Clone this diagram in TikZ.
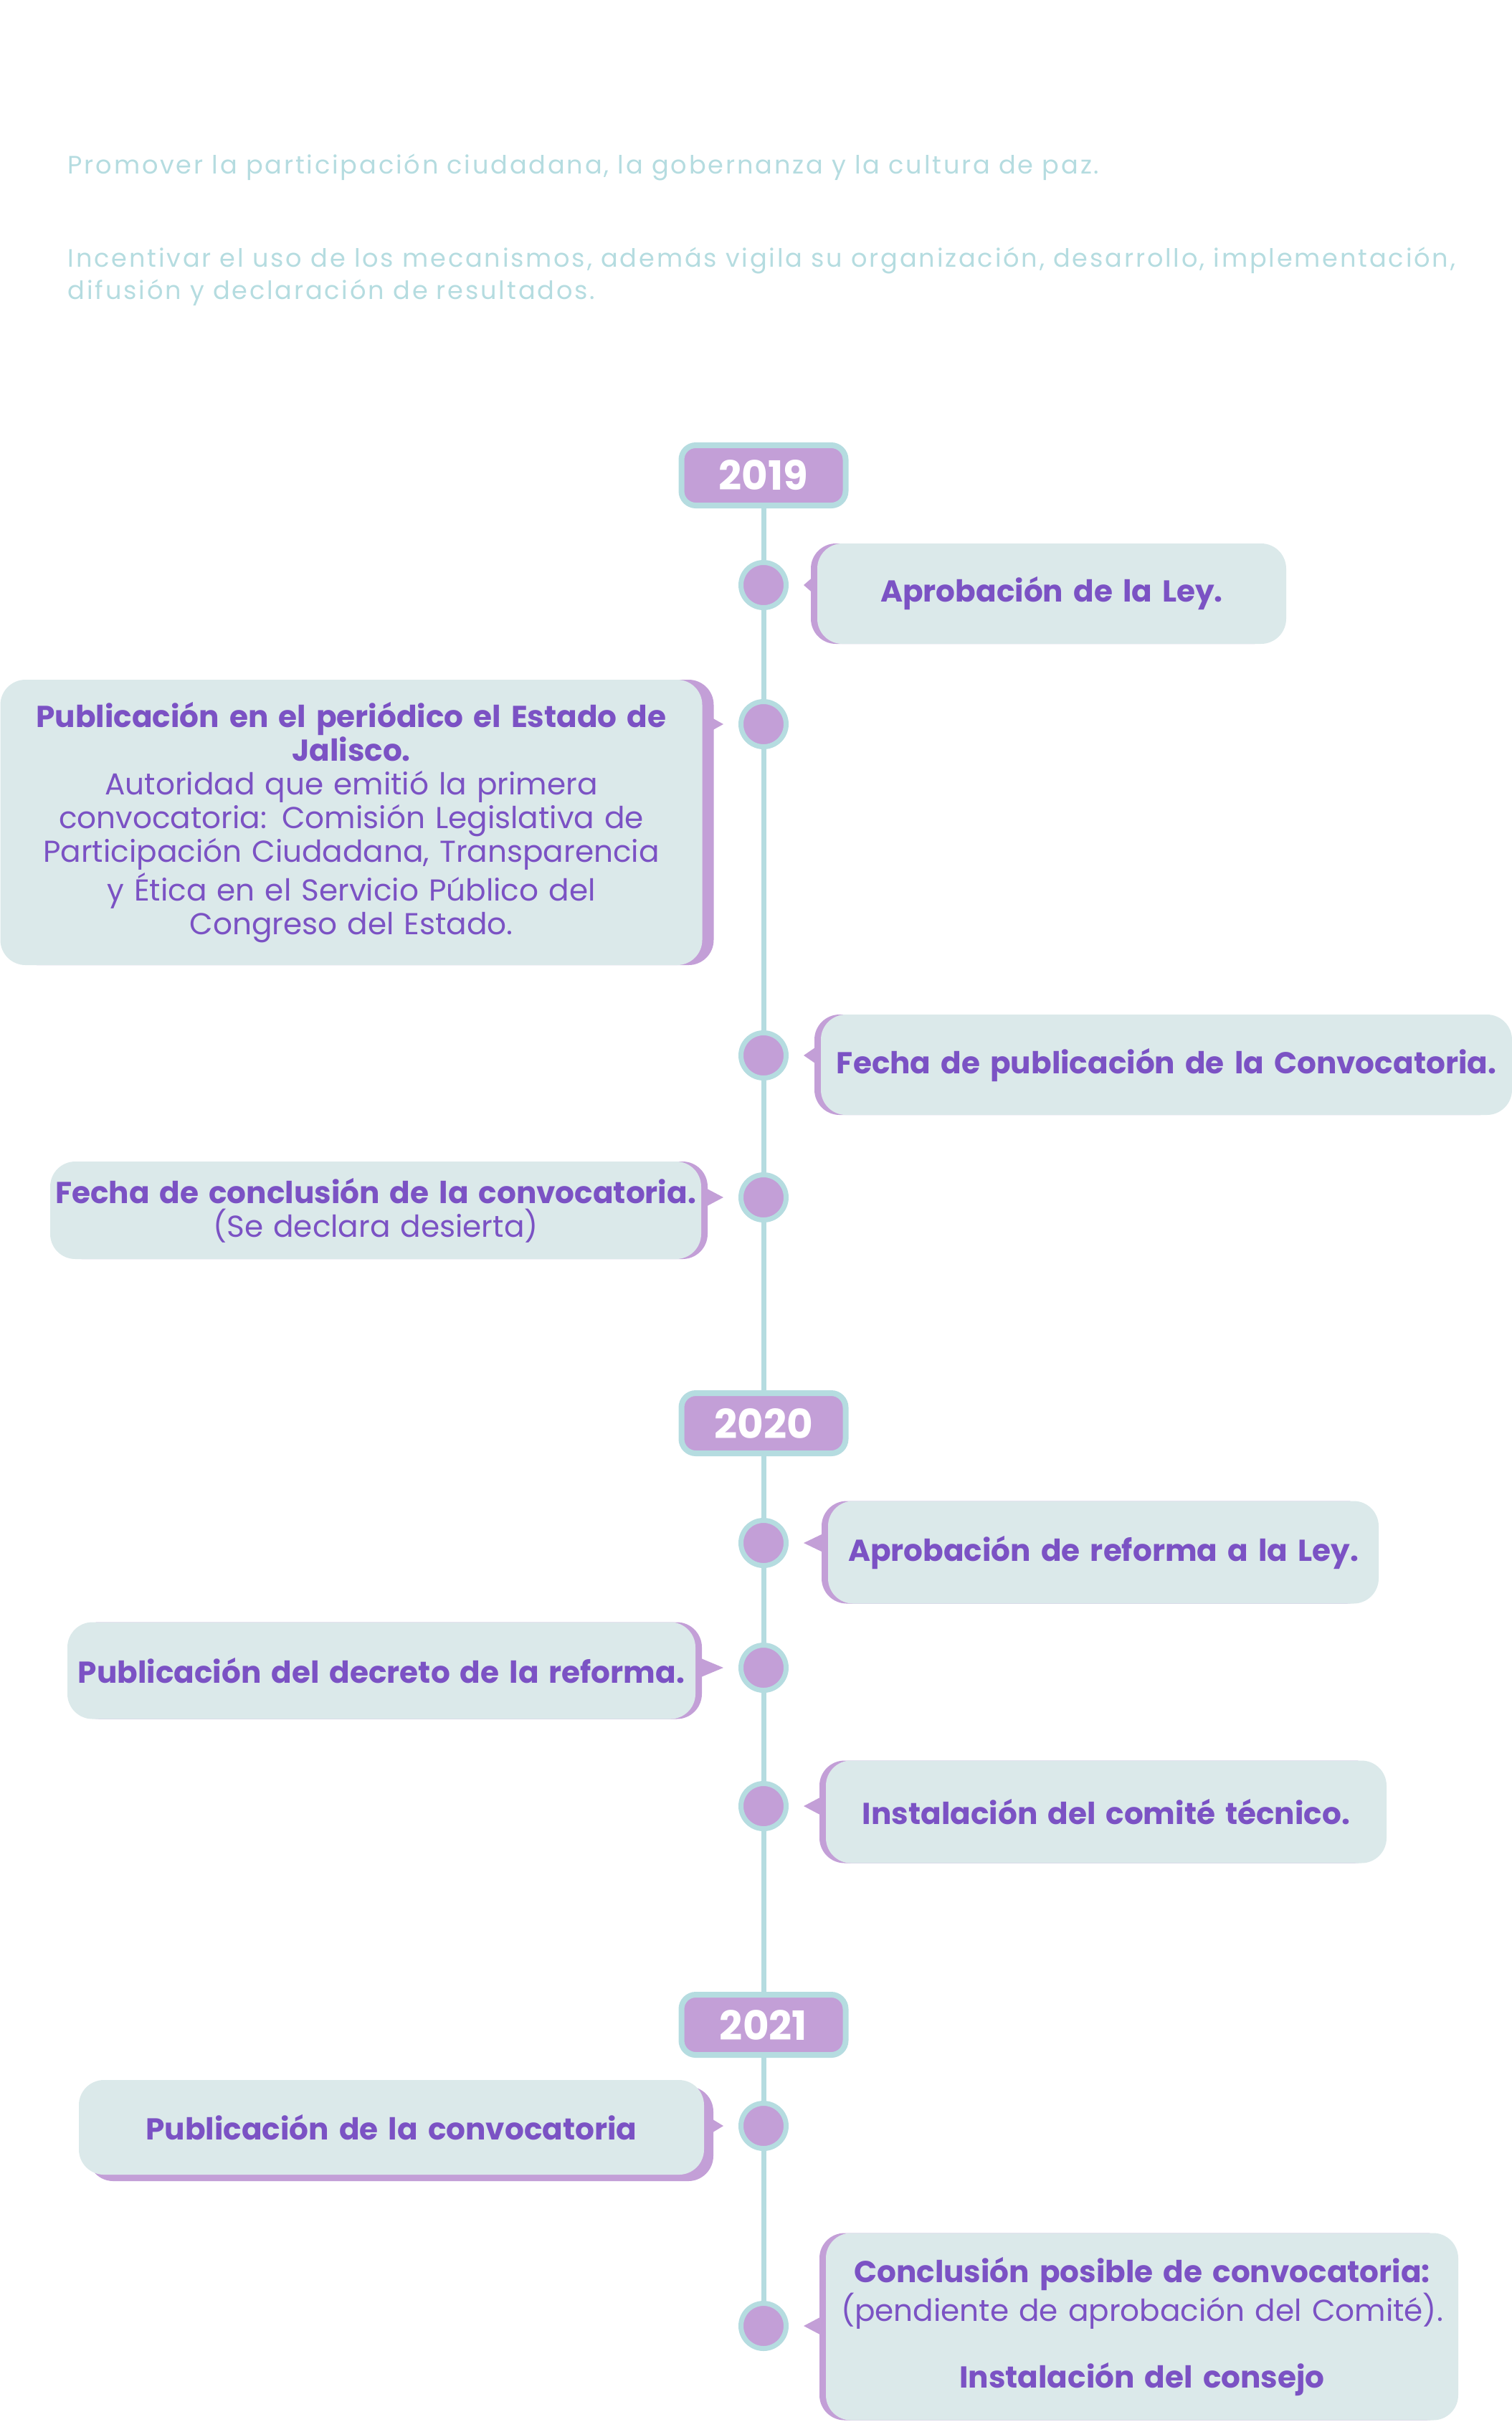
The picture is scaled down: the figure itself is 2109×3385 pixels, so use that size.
\documentclass[tikz,border=0pt]{standalone}
\usepackage{fontspec}
\setmainfont{Poppins}
\usetikzlibrary{backgrounds,shadows}
\definecolor{lila}{HTML}{C39FD7}
\definecolor{celeste}{HTML}{B5DCE0}
\definecolor{fondo}{HTML}{DBE9EA}
\definecolor{morado}{HTML}{7B52C4}
\newcommand{\hito}[1]{\textbf{#1}}

\begin{document}
\begin{tikzpicture}[x=0.1mm,y=-0.1mm,
  year/.style={rectangle,rounded corners=2mm,draw=celeste,line width=0.8mm,fill=lila,text=white,
    font=\fontsize{16}{18}\selectfont\bfseries,minimum width=22.9mm,minimum height=8.4mm},
  dot/.style={circle,draw=celeste,line width=0.7mm,fill=lila,minimum size=6.3mm,inner sep=0pt},
  caja/.style={rectangle,rounded corners=3.5mm,fill=fondo,text=morado,align=center,inner sep=0pt,
    font=\fontsize{12}{13.4}\selectfont},
  der/.style={caja,drop shadow={shadow xshift=-0.9mm,shadow yshift=0mm,fill=lila,opacity=1}},
  izq/.style={caja,drop shadow={shadow xshift=#1,shadow yshift=0mm,fill=lila,opacity=1}},
  izq/.default=0.9mm,
  ptr/.style={fill=lila},
  linea/.style={draw=celeste,line width=0.7mm},
  head/.style={text=celeste,font=\fontsize{10}{12.8}\selectfont\addfontfeatures{LetterSpace=8},
    anchor=base west,inner sep=0pt}]
\useasboundingbox (0,0) rectangle (2109,3385);

\node[head] (h1) at (94,242) {Promover la participación ciudadana, la gobernanza y la cultura de paz.};
\node[head] (h2) at (94,372) {Incentivar el uso de los mecanismos, además vigila su organización, desarrollo, implementación,};
\node[head] (h3) at (94,417) {difusión y declaración de resultados.};

\node[year] (y19) at (1065,663) {2019};
\node[year] (y20) at (1065,1985) {2020};
\node[year] (y21) at (1065,2824) {2021};

\node[dot] (d1) at (1065,816) {};
\node[dot] (d2) at (1065,1010) {};
\node[dot] (d3) at (1065,1472) {};
\node[dot] (d4) at (1065,1670) {};
\node[dot] (d5) at (1065,2152) {};
\node[dot] (d6) at (1065,2326) {};
\node[dot] (d7) at (1065,2519) {};
\node[dot] (d8) at (1065,2965) {};
\node[dot] (d9) at (1065,3244) {};

\node[der,minimum width=65.4mm,minimum height=14mm,text width=61mm] (b1) at (1467,828)
  {\hito{Aprobación de la Ley.}};
\node[izq=1.6mm,minimum width=97.9mm,minimum height=39.8mm,text width=94mm] (b2) at (490,1147)
  {\hito{Publicación en el periódico el Estado de}\\\hito{Jalisco.}\\Autoridad que emitió la primera\\
   convocatoria: Comisión Legislativa de\\Participación Ciudadana, Transparencia\\
   y Ética en el Servicio Público del\\Congreso del Estado.};
\node[der,minimum width=96.4mm,minimum height=14mm,text width=93mm] (b3) at (1627,1485)
  {\hito{Fecha de publicación de la Convocatoria.}};
\node[izq,minimum width=90.8mm,minimum height=13.6mm,text width=90mm] (b4) at (524,1688)
  {\hito{Fecha de conclusión de la convocatoria.}\\(Se declara desierta)};
\node[der,minimum width=76.8mm,minimum height=14.3mm,text width=73mm] (b5) at (1539,2165)
  {\hito{Aprobación de reforma a la Ley.}};
\node[izq,minimum width=87.6mm,minimum height=13.5mm,text width=87mm] (b6) at (532,2330)
  {\hito{Publicación del decreto de la reforma.}};
\node[der,minimum width=78.2mm,minimum height=14.3mm,text width=74mm] (b7) at (1543,2527)
  {\hito{Instalación del comité técnico.}};
\node[caja,drop shadow={shadow xshift=1.3mm,shadow yshift=-0.9mm,fill=lila,opacity=1},
  minimum width=87.2mm,minimum height=13.2mm,text width=84mm] (b8) at (546,2967)
  {\hito{Publicación de la convocatoria}};
\node[der,minimum width=88.2mm,minimum height=26.1mm,text width=85mm] (b9) at (1593,3245)
  {\hito{Conclusión posible de convocatoria:}\\(pendiente de aprobación del Comité).\\[4.6mm]
   \hito{Instalación del consejo}};

% timeline and pointers behind everything
\begin{scope}[on background layer]
\draw[linea] (y19) -- (d9);
\fill[ptr] ([yshift=1.6mm]b1.west |- d1) -- ([xshift=2.1mm]d1.east) -- ([yshift=-1.6mm]b1.west |- d1) -- cycle;
\fill[ptr] ([yshift=1.6mm]b2.east |- d2) -- ([xshift=-2.1mm]d2.west) -- ([yshift=-1.6mm]b2.east |- d2) -- cycle;
\fill[ptr] ([yshift=1.6mm]b3.west |- d3) -- ([xshift=2.1mm]d3.east) -- ([yshift=-1.6mm]b3.west |- d3) -- cycle;
\fill[ptr] ([yshift=1.6mm]b4.east |- d4) -- ([xshift=-2.1mm]d4.west) -- ([yshift=-1.6mm]b4.east |- d4) -- cycle;
\fill[ptr] ([yshift=1.6mm]b5.west |- d5) -- ([xshift=2.1mm]d5.east) -- ([yshift=-1.6mm]b5.west |- d5) -- cycle;
\fill[ptr] ([yshift=1.6mm]b6.east |- d6) -- ([xshift=-2.1mm]d6.west) -- ([yshift=-1.6mm]b6.east |- d6) -- cycle;
\fill[ptr] ([yshift=1.6mm]b7.west |- d7) -- ([xshift=2.1mm]d7.east) -- ([yshift=-1.6mm]b7.west |- d7) -- cycle;
\fill[ptr] ([yshift=1.6mm]b8.east |- d8) -- ([xshift=-2.1mm]d8.west) -- ([yshift=-1.6mm]b8.east |- d8) -- cycle;
\fill[ptr] ([yshift=1.6mm]b9.west |- d9) -- ([xshift=2.1mm]d9.east) -- ([yshift=-1.6mm]b9.west |- d9) -- cycle;
\end{scope}
\end{tikzpicture}
\end{document}
